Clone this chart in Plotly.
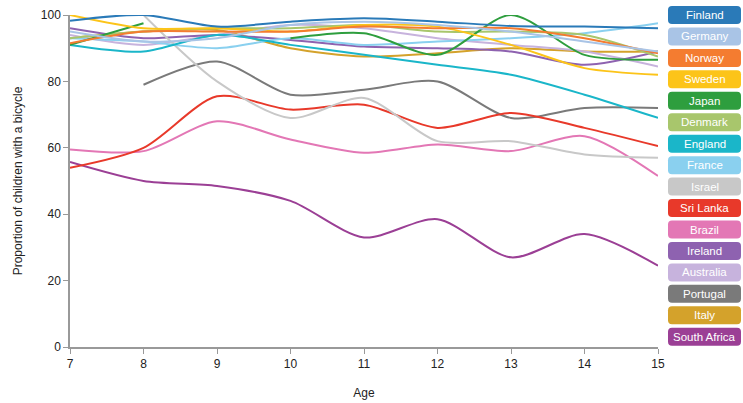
import plotly.graph_objects as go

ages = [7, 8, 9, 10, 11, 12, 13, 14, 15]

countries = ["Finland", "Germany", "Norway", "Sweden", "Japan", "Denmark", "England", "France",
             "Israel", "Sri Lanka", "Brazil", "Ireland", "Australia", "Portugal", "Italy", "South Africa"]

finland = [98.3, 100, 96.5, 98, 99, 98, 96.7, 96.5, 96]
germany = [95, 92, 93, 97, 98, 97, 95, 92, 89]
norway = [91.5, 95, 95, 95, 96.5, 96, 96, 93, 88.5]
sweden = [100, 96, 96, 95, 97, 96.5, 91, 84, 82]
japan = [91, 97.5, None, 93, 94.5, 88, 100, 88, 86.5]
denmark = [93, 95, 96, 96, 97, 95, 95, 94, 87.5]
england = [91, 89, 94, 91, 88, 85, 82, 76, 69]
france = [93, 92, 90, 93, 91, 92, 93, 94.5, 97.5]
israel = [None, 100, 80, 69, 75, 62, 62, 58, 57]
sri_lanka = [54, 60, 75.5, 71.5, 73, 66, 70.5, 66, 60.5]
brazil = [59.5, 59, 68, 62.5, 58.5, 61, 59, 63.5, 51.5]
ireland = [96, 93, 94, 92.5, 90.5, 90, 89, 85, 89]
australia = [94, 91, 94, 97, 96, 93, 91, 89, 84.5]
portugal = [None, 79, 86, 76, 77.5, 80, 69, 72, 72]
italy = [93, 95, 95.5, 90, 87.5, 88.5, 90, 89, 89]
south_africa = [55.7, 50, 48.5, 44, 33, 38.5, 27, 34, 24.5]

series = [finland, germany, norway, sweden, japan, denmark, england, france,
          israel, sri_lanka, brazil, ireland, australia, portugal, italy, south_africa]

colors = ["#2a7ab8", "#a9c4e6", "#f47c30", "#fcc419", "#2e9e3e", "#a8c66c", "#1ab6c9", "#8ad0ef",
          "#c8c8c8", "#e8392a", "#e377b5", "#8e62b0", "#c7b3dd", "#7a7a7a", "#d4a22b", "#9b3f95"]

fig = go.Figure()
# draw in reverse so Finland is on top
for name, vals, col in reversed(list(zip(countries, series, colors))):
    fig.add_trace(go.Scatter(x=ages, y=vals, mode="lines", name=name,
                             line=dict(color=col, width=2, shape="spline", smoothing=0.8),
                             connectgaps=False, showlegend=False))

W, H = 743, 403
L, R, T, B = 70, 85, 15, 56
pw, ph = W - L - R, H - T - B


def px(x):
    return (x - L) / pw


def py(y):
    return 1 - (y - T) / ph


shapes = []
annotations = []
for i, (name, col) in enumerate(zip(countries, colors)):
    cy = 15 + i * 21.45
    x0p, x1p = 668, 741
    y0p, y1p = cy - 9, cy + 9
    r = 4
    path = (f"M {px(x0p + r)},{py(y0p)} L {px(x1p - r)},{py(y0p)} "
            f"Q {px(x1p)},{py(y0p)} {px(x1p)},{py(y0p + r)} "
            f"L {px(x1p)},{py(y1p - r)} Q {px(x1p)},{py(y1p)} {px(x1p - r)},{py(y1p)} "
            f"L {px(x0p + r)},{py(y1p)} Q {px(x0p)},{py(y1p)} {px(x0p)},{py(y1p - r)} "
            f"L {px(x0p)},{py(y0p + r)} Q {px(x0p)},{py(y0p)} {px(x0p + r)},{py(y0p)} Z")
    shapes.append(dict(type="path", path=path, xref="paper", yref="paper",
                       fillcolor=col, line=dict(width=0), layer="above"))
    annotations.append(dict(x=px((x0p + x1p) / 2), y=py(cy), xref="paper", yref="paper",
                            text=name, showarrow=False, xanchor="center", yanchor="middle",
                            font=dict(color="white", size=11.5, family="Liberation Sans")))

fig.update_layout(
    width=W, height=H,
    margin=dict(l=L, r=R, t=T, b=B, autoexpand=False),
    plot_bgcolor="white", paper_bgcolor="white",
    font=dict(family="Liberation Sans", size=12, color="#222"),
    shapes=shapes, annotations=annotations,
    xaxis=dict(range=[7, 15], tickmode="array", tickvals=ages, showgrid=False, zeroline=False,
               showline=True, linecolor="#999", linewidth=1.5, ticks="outside", ticklen=5,
               tickcolor="#999", automargin=False,
               title=dict(text="Age", standoff=18, font=dict(size=12))),
    yaxis=dict(range=[0, 100], tickvals=[0, 20, 40, 60, 80, 100], showgrid=False, zeroline=False,
               showline=True, linecolor="#999", linewidth=1.5, ticks="outside", ticklen=5,
               tickcolor="#999", automargin=False,
               title=dict(text="Proportion of children with a bicycle", standoff=16, font=dict(size=12))),
)

fig.write_html("out.html", config={"displayModeBar": False},
               post_script="document.body.style.margin='0';document.body.style.overflow='hidden';")
